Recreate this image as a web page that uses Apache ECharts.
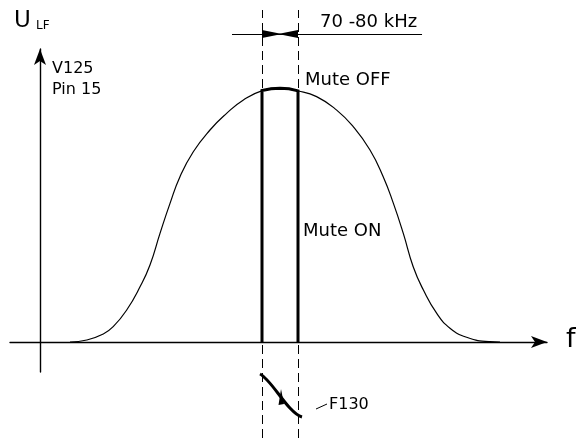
<!DOCTYPE html>
<html>
<head>
<meta charset="utf-8">
<script src="https://cdn.jsdelivr.net/npm/echarts@6/dist/echarts.min.js"></script>
<style>
html,body{margin:0;padding:0;background:#fff;}
#chart{width:588px;height:438px;}
</style>
</head>
<body>
<div id="chart"></div>
<script>
// Response curve U (arbitrary units) vs f (arbitrary units)
const curveF = [5, 7.8, 10.55, 12.2, 14.45, 16.67, 18.33, 20, 21.67, 23.33, 25.55, 28.33, 31.1, 33.9, 37.05, 39.7, 43.05, 46.1, 49.45, 52.2, 55, 57.2, 58.9, 60.55, 62.2, 63.9, 66.1, 68.33, 71.1, 75, 76.67];
const curveU = [0, 0.67, 2.67, 5.1, 10.67, 18.4, 25.67, 36.2, 46.2, 55.1, 63.4, 70.67, 76.2, 80.67, 83.8, 84.6, 83.67, 81.8, 77.3, 71.8, 64, 55.1, 46.2, 36.2, 25.1, 17.3, 9.6, 4.6, 1.57, 0.1, 0];
// Pass band (70-80 kHz) edges and top arc
const bandEdges = [37, 43];
const bandTopF = [37, 38.5, 40, 41.5, 43];
const bandTopU = [83.8, 84.4, 84.6, 84.4, 83.7];
// Dimension line of the band
const dimSpan = [32, 63.67];
const dimLevel = 102.67;

const curveData = curveF.map((f, i) => [f, curveU[i]]);
const bandData = [[bandEdges[0], 0]].concat(bandTopF.map((f, i) => [f, bandTopU[i]]), [[bandEdges[1], 0]]);

const FONT = 'DejaVu Sans';
const chart = echarts.init(document.getElementById('chart'), null, {renderer: 'canvas'});

chart.setOption({
  animation: false,
  backgroundColor: '#ffffff',
  grid: [
    {left: 10, right: 41, top: 49, bottom: 66},
    {left: 10, right: 41, top: 10, bottom: 0}
  ],
  xAxis: [
    {
      gridIndex: 0, type: 'value', min: -5, max: 84.5,
      axisLine: {show: true, onZero: true, symbol: ['none', 'arrow'], symbolSize: [9, 16], lineStyle: {color: '#000', width: 1.4}},
      axisTick: {show: false}, axisLabel: {show: false}, splitLine: {show: false}
    },
    {gridIndex: 1, type: 'value', min: -5, max: 84.5, show: false}
  ],
  yAxis: [
    {
      gridIndex: 0, type: 'value', min: -10, max: 97.667,
      axisLine: {show: true, onZero: true, symbol: ['none', 'arrow'], symbolSize: [9, 16], lineStyle: {color: '#000', width: 1.4}},
      axisTick: {show: false}, axisLabel: {show: false}, splitLine: {show: false}
    },
    {gridIndex: 1, type: 'value', min: -32, max: 110.667, show: false}
  ],
  series: [
    {
      type: 'line', xAxisIndex: 0, yAxisIndex: 0, data: curveData,
      smooth: 0.5, symbol: 'none', clip: false,
      lineStyle: {color: '#000', width: 1.2}
    },
    {
      type: 'line', xAxisIndex: 0, yAxisIndex: 0, data: bandData,
      smooth: false, symbol: 'none', clip: false,
      lineStyle: {color: '#000', width: 3, join: 'miter'}
    },
    {
      type: 'line', xAxisIndex: 1, yAxisIndex: 1, data: [], symbol: 'none',
      markLine: {
        silent: true, symbol: ['none', 'none'], label: {show: false},
        lineStyle: {color: '#000', width: 1, type: [9, 5]},
        data: bandEdges.map(f => ({xAxis: f}))
      }
    },
    {
      type: 'line', xAxisIndex: 1, yAxisIndex: 1, data: [], symbol: 'none',
      markLine: {
        silent: true, label: {show: false}, symbol: ['none', 'none'],
        lineStyle: {color: '#000', width: 1, type: 'solid'},
        data: [
          [{coord: [dimSpan[0], dimLevel]}, {coord: [dimSpan[1], dimLevel]}]
        ]
      }
    },
    {
      type: 'line', xAxisIndex: 1, yAxisIndex: 1, data: [], symbol: 'none',
      markLine: {
        silent: true, label: {show: false},
        symbol: ['none', 'triangle'], symbolSize: [8, 20], symbolOffset: [0, [0, -10]],
        lineStyle: {color: '#000', width: 1, type: 'solid'},
        data: [
          [{coord: [dimSpan[0], dimLevel]}, {coord: [bandEdges[0], dimLevel]}],
          [{coord: [dimSpan[1], dimLevel]}, {coord: [bandEdges[1], dimLevel]}]
        ]
      }
    }
  ],
  graphic: [
    {type: 'text', x: 14, y: 21, style: {text: 'U', font: '23px "' + FONT + '"', fill: '#000', verticalAlign: 'middle'}},
    {type: 'text', x: 36, y: 26, style: {text: 'LF', font: '12px "' + FONT + '"', fill: '#000', verticalAlign: 'middle'}},
    {type: 'text', x: 52, y: 69, style: {text: 'V125', font: '16px "' + FONT + '"', fill: '#000', verticalAlign: 'middle'}},
    {type: 'text', x: 52, y: 90, style: {text: 'Pin 15', font: '16px "' + FONT + '"', fill: '#000', verticalAlign: 'middle'}},
    {type: 'text', x: 320, y: 22, style: {text: '70 -80 kHz', font: '18px "' + FONT + '"', fill: '#000', verticalAlign: 'middle'}},
    {type: 'text', x: 305, y: 80, style: {text: 'Mute OFF', font: '18px "' + FONT + '"', fill: '#000', verticalAlign: 'middle'}},
    {type: 'text', x: 303, y: 231, style: {text: 'Mute ON', font: '18px "' + FONT + '"', fill: '#000', verticalAlign: 'middle'}},
    {type: 'text', x: 566, y: 340, style: {text: 'f', font: '27px "' + FONT + '"', fill: '#000', verticalAlign: 'middle'}},
    {type: 'text', x: 329, y: 405, style: {text: 'F130', font: '16px "' + FONT + '"', fill: '#000', verticalAlign: 'middle'}},
    {type: 'line', shape: {x1: 316, y1: 409, x2: 327, y2: 404}, style: {stroke: '#000', lineWidth: 1}},
    {type: 'bezierCurve', shape: {x1: 260, y1: 374, cpx1: 272, cpy1: 380, cpx2: 288, cpy2: 413, x2: 302, y2: 417}, style: {stroke: '#000', lineWidth: 3, fill: null}},
    {type: 'polygon', shape: {points: [[281, 389], [278.5, 405], [284, 404]]}, style: {fill: '#000'}}
  ]
});
</script>
</body>
</html>
